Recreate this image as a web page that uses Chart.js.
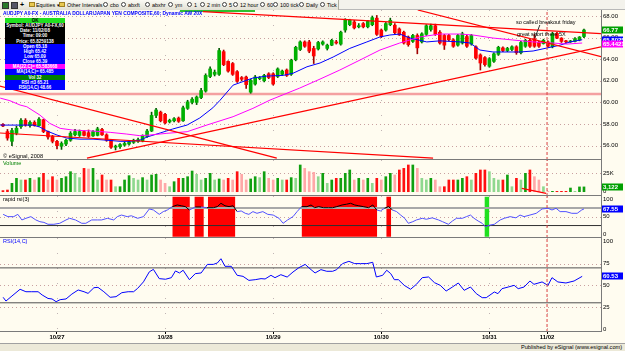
<!DOCTYPE html>
<html><head><meta charset="utf-8">
<script src="https://cdn.jsdelivr.net/npm/chart.js@4.4.1/dist/chart.umd.min.js"></script>
<style>
*{box-sizing:border-box}
html,body{margin:0;padding:0;width:625px;height:351px;overflow:hidden;background:#fffcf0;font-family:"Liberation Sans",Arial,sans-serif;position:relative}
canvas{position:absolute;left:0}
.t{position:absolute;white-space:nowrap;line-height:1;transform-origin:0 50%}
#tb{position:absolute;left:0;top:0;width:625px;height:10px;background:#f3f2ec;border-bottom:1px solid #b8b8b8}
#tbl{position:absolute;left:0;top:0;width:339px;height:10px;background:linear-gradient(#fbfaf4,#e2e0d4);border-right:1px solid #b0ae9f}
.tbi{position:absolute;top:2.5px;font-size:5.4px;color:#000;white-space:nowrap;line-height:1}
.ic{position:absolute;top:2px;width:5px;height:5px;border:1px solid #444;border-radius:50%;background:#fff}
.fd{position:absolute;top:2px;width:6px;height:5px;background:#e8c850;border:1px solid #a08020}
#dw{position:absolute;left:5px;top:18px;width:60px}
#dw div{height:5.15px;font-size:4.5px;line-height:5.15px;color:#fff;text-align:center;white-space:nowrap;overflow:hidden;font-weight:bold}
#sb{position:absolute;left:0;top:343px;width:625px;height:8px;background:#ece9d8;border-top:1px solid #a0a0a0}
</style></head><body>
<div id="tb"><div id="tbl"></div></div>
<div style="position:absolute;left:180px;top:10px;width:75px;height:1.5px;background:#30c030"></div>
<div id="title" class="t" style="left:3px;top:10px;font-size:6.2px;font-weight:bold;color:#0000ff">AUDJPY A0-FX - AUSTRALIA DOLLAR/JAPAN YEN COMPOSITE,60; Dynamic AW 20X</div>
<div id="dw"></div>
<div id="ann1" class="t" style="left:516px;top:20px;font-size:5.5px;color:#000">so called breakout friday</div>
<div id="ann2" class="t" style="left:517px;top:32px;font-size:5.5px;color:#000">great short there 5X</div>
<div id="copy" class="t" style="left:3px;top:155px;font-size:4.5px;color:#000">© eSignal, 2008</div>
<div id="lvol" class="t" style="left:3px;top:161px;font-size:5.5px;color:#008000">Volume</div>
<div id="lrr" class="t" style="left:3px;top:197px;font-size:5.5px;color:#000">rapid rsi(3)</div>
<div id="lrsi" class="t" style="left:3px;top:239px;font-size:5.5px;color:#0000ff">RSI(14,C)</div>
<div id="sb"></div>
<div id="pub" class="t" style="left:521px;top:345px;font-size:5px;color:#000">Published by eSignal (www.esignal.com)</div>
<script>
// ---------------- DATA ----------------
const dayTicks = [12, 36, 60, 84, 108, 120.8];
const dayLabels = ['10/27', '10/28', '10/29', '10/30', '10/31', '11/02'];
const sessionMark = 120.8;

const opens  = [57.97,57.30,56.40,57.15,57.75,58.35,57.85,58.15,57.85,58.40,57.30,56.85,56.40,55.95,56.15,56.50,57.00,56.95,57.30,57.20,56.90,56.95,57.50,57.00,56.50,55.85,55.90,56.05,56.15,56.30,56.40,56.45,56.85,57.35,58.80,59.10,58.90,58.20,58.30,58.55,58.30,59.45,60.00,60.00,60.45,61.05,62.40,62.60,62.60,64.70,63.80,63.60,62.85,62.30,62.35,60.95,61.70,62.20,62.00,62.65,62.65,62.40,62.60,63.00,62.60,63.95,64.90,65.60,65.60,65.00,64.95,65.40,65.00,65.30,65.60,65.40,66.70,67.20,67.45,67.00,67.30,67.00,67.20,67.80,66.70,66.70,67.20,67.15,66.80,66.50,66.05,65.65,66.20,65.60,66.30,66.75,67.10,66.50,66.20,66.20,65.80,65.30,65.50,66.10,65.40,65.15,64.40,64.15,63.35,63.80,64.45,65.05,64.80,64.90,65.15,64.60,65.20,65.75,65.90,65.55,65.45,65.60,65.15,66.40,65.95,65.70,65.60,65.65,65.80,66.10];
const highs  = [58.05,57.50,57.60,57.80,58.50,58.50,58.30,58.30,58.60,58.45,57.35,56.95,56.50,56.35,56.60,57.30,57.50,57.45,57.40,57.45,57.40,57.70,57.60,57.10,56.55,56.05,56.20,56.35,56.50,56.60,56.70,57.00,57.50,59.10,59.45,59.20,59.00,58.45,58.60,58.65,59.65,60.20,60.45,60.60,61.30,62.65,63.30,63.00,65.00,64.85,63.85,63.70,62.95,62.40,62.45,62.15,62.50,62.40,62.60,62.75,62.75,63.20,63.00,63.10,64.00,65.20,65.70,65.70,65.75,65.20,65.65,65.70,65.40,65.85,65.75,66.60,67.75,67.70,67.60,67.30,67.40,67.60,68.00,68.05,66.80,67.40,67.80,67.30,66.90,66.60,66.15,66.30,66.35,66.45,67.20,67.25,67.25,66.65,66.30,66.30,65.90,66.30,66.50,66.20,66.30,65.25,64.50,64.25,64.15,64.60,65.20,65.15,65.10,65.25,65.25,65.65,65.85,65.85,66.30,65.65,65.85,65.70,66.50,66.50,66.00,65.75,65.75,66.00,66.10,66.80];
const lows   = [57.75,56.50,56.00,57.00,57.60,57.80,57.70,57.80,57.80,57.20,56.60,56.25,55.70,55.65,56.00,56.40,56.90,56.85,56.90,56.75,56.85,56.90,56.95,56.40,55.75,55.60,55.75,55.95,56.05,56.20,56.30,56.35,56.75,57.30,58.60,58.20,58.00,58.10,58.20,58.15,58.25,59.35,59.85,59.80,60.35,60.95,62.30,62.45,62.50,63.40,62.80,62.50,61.85,62.00,61.30,60.85,61.60,62.10,61.90,62.20,61.60,62.30,62.50,62.40,62.50,63.85,64.80,65.10,64.60,63.60,64.85,65.30,64.85,65.25,65.40,65.30,66.50,67.10,66.80,66.90,66.90,66.90,67.10,66.20,66.00,66.60,67.10,66.35,66.20,65.40,65.20,65.55,64.50,65.50,66.20,66.60,66.20,65.40,64.90,65.70,65.10,65.20,65.40,65.10,65.30,64.00,63.00,63.35,63.25,63.70,64.35,64.70,64.70,64.80,64.45,64.50,65.10,65.10,65.10,65.10,65.40,65.10,65.05,65.90,65.55,65.50,65.55,65.60,65.70,66.00];
const closes = [57.82,56.70,57.40,57.60,58.35,57.90,58.15,57.85,58.45,57.30,56.80,56.40,56.00,56.20,56.50,57.15,57.30,57.30,56.95,56.85,57.30,57.55,57.00,56.50,55.85,55.95,56.10,56.20,56.35,56.50,56.55,56.90,57.35,58.80,59.30,58.30,58.10,58.35,58.50,58.25,59.50,60.05,60.30,60.50,61.10,62.50,63.10,62.80,64.80,63.50,62.90,62.60,61.95,62.15,61.65,62.05,62.35,62.30,62.50,62.30,61.70,63.10,62.90,62.50,63.90,65.10,65.60,65.20,64.75,64.30,65.55,65.60,65.30,65.75,65.50,66.50,67.60,67.60,66.90,67.10,67.00,67.50,67.85,66.30,66.10,67.30,67.60,66.45,66.25,65.50,65.35,66.20,65.05,66.35,67.10,67.10,66.30,65.50,65.30,65.80,65.20,66.20,66.35,65.20,66.20,64.10,63.65,63.50,64.05,64.50,65.10,64.80,65.00,65.15,64.60,65.55,65.75,65.20,65.20,65.20,65.75,65.20,66.35,65.95,65.65,65.60,65.65,65.90,66.05,66.70];
const volumeK = [1.5,2.3,11.4,18.2,15.9,15.9,18.2,15.9,19.1,25,15.9,20.4,15.9,18.2,20.4,27.2,25,19.1,31.7,30.8,31.7,15.9,22.7,15.9,15.9,6.8,6.8,15.9,21.8,18.2,15.9,19.1,15.9,22.7,23.6,15.9,11.4,6.8,13.6,18.2,18.2,20.4,28.1,23.6,15.9,18.2,25,15.9,17.3,15.9,18.2,15.9,27.2,23.6,15.9,17.3,20.4,19.1,27.2,18.2,15.9,18.2,15.9,15.9,19.1,18.2,36.3,31.7,27.2,26.3,20.4,25,11.4,15.9,18.2,18.2,25,29.5,15.9,18.2,15.9,18.2,11.4,18.2,15.9,20.4,25,22.7,29.5,31.7,36.3,36.3,31.7,18.2,15.9,18.2,15.9,6.8,6.8,15.9,15.9,15.9,18.2,20.4,15.9,25,29.5,29.5,27.2,18.2,15.9,15.9,22.7,6.8,18.2,15.9,25,29.5,20.4,15.9,6.8,0.5,0.5,0.5,0.5,0.5,5,0.5,6.5,6.5];

// moving averages [barPosition, value]
const maFast = [[-0.6,57.9],[3.1,57.9],[6.7,57.9],[8.2,57.72],[9.8,57.35],[12,56.98],[14.2,56.7],[17.1,56.6],[20,56.6],[23.1,56.5],[26,56.4],[28.2,56.4],[30.4,56.5],[32,56.8],[34.9,57.17],[37.7,57.54],[40.9,57.91],[43.7,58.56],[46.6,59.5],[48.2,60.2],[51.1,61.6],[55.5,62.26],[58.6,62.44],[62.2,62.5],[64.4,62.7],[67.5,63.3],[70.4,63.65],[73.3,64.2],[77,65.0],[80.8,65.6],[83.7,66.06],[85.9,66.24],[88.1,66.33],[90.4,65.96],[94.1,65.6],[97,65.7],[101.5,65.6],[103.7,65.5],[105.9,64.85],[108.8,64.67],[111.9,64.67],[114.8,64.67],[117.7,64.76],[120.8,65.04],[123.7,65.3],[125.9,65.6],[128.6,65.8]];
const maSlow = [[-0.6,60.4],[1.55,60.16],[3.8,59.76],[5.3,59.6],[8.2,58.83],[10.4,58.06],[12.7,57.6],[15.5,57.44],[20,57.35],[23.8,57.23],[27.5,57.07],[30.4,56.92],[32.6,56.98],[36.4,57.14],[40.9,57.29],[45.3,57.91],[51.1,58.68],[55.5,59.45],[59.3,60.22],[65.9,61.33],[70.4,62.16],[74.8,63.0],[79.3,63.93],[83.7,64.85],[88.1,65.5],[92.6,66.06],[97,66.33],[101.5,66.33],[104.4,66.24],[108.8,65.96],[113.2,65.78],[117.7,65.6],[122.1,65.5],[125.2,65.4],[128.6,65.5]];

// drawn trend lines [[x1,y1],[x2,y2]]
const trendLines = [
  [[44.4,68.4],[132.8,66.36]],
  [[92.1,68.56],[132.8,64.23]],
  [[18.65,54.85],[132.8,65.14]],
  [[-0.7,61.52],[60.8,54.85]],
  [[-0.7,57.17],[95.5,54.85]]
];
const levelLine = [[-0.7,60.78],[132.8,60.78]];
const annotArrow = [[119.2,67.17],[118.1,65.96]];
const volTrend = [[115.2,4.6],[120.6,-2.2]];

const rapidRsi = [[0.04,57],[1.1,50.5],[2.4,50.5],[3.3,57],[4.2,41],[5.1,45.7],[6.2,50.5],[7.3,41],[8.2,36],[9.1,34],[10,28.6],[11.3,28.6],[12.6,31.4],[14,41],[14.8,45.7],[16.1,41],[17.5,31.4],[18.4,31.4],[19.7,41],[21,41],[21.9,41],[23.2,45.7],[24.6,41],[25.4,50.5],[26.3,55],[27.6,50.5],[28.5,53],[29.9,45.7],[31.2,50.5],[32.5,72.4],[33.4,69.5],[34.7,57],[35.6,64.8],[36.5,69.5],[37.6,79],[38.7,83.8],[39.6,81.5],[40.5,79],[41.4,69.5],[42.7,78],[44,78],[45.3,76],[46.7,76],[47.6,79],[48.4,88.6],[49.3,81.5],[50.2,79],[51.1,81.5],[52,64.8],[52.9,66.7],[53.8,60],[54.6,57],[55.5,64.8],[56.4,60],[57.7,64.8],[58.8,57],[60,55],[61.3,45.7],[62.2,31.4],[63.2,41],[64.4,50.5],[65.3,64.8],[66.3,79],[67.5,79],[68.4,83.8],[69.2,76],[70.1,79],[71.2,76],[72.3,76],[73.2,76],[74.1,79],[75.3,83.8],[76.3,86],[77.2,88.6],[78.1,83.8],[79,81.5],[80,79],[81.2,76],[82.1,83.8],[83,69.5],[83.8,66.7],[84.7,74.3],[85.6,79],[86.5,69.5],[87.4,64.8],[88.3,55],[89.2,45.7],[90,31.4],[91,36],[91.8,41],[93.1,45.7],[94,43],[95.3,47],[96.7,41],[97.6,36],[98.9,28.6],[99.8,38],[100.7,45.7],[102,45.7],[102.9,50.5],[103.8,55],[104.6,45.7],[105.5,38],[106.4,31.4],[107.1,21.7],[108,26],[109.1,28.6],[110.4,41],[111.3,45.7],[112.6,50.5],[113.9,47],[114.8,55],[115.7,50.5],[117,55],[118.4,60],[119.7,72.4],[121,74.3],[121.9,69.5],[122.8,74.3],[123.7,64.8],[125,64.8],[126.3,60],[127.5,60],[128.5,69.5],[129,72.4]];
const overboughtZones = [[37.6,41.5],[42.5,44.6],[45.5,51.6],[66.3,83.1],[85.1,86.2]];
const oversoldZones = [[106.9,108]];

const rsi14 = [[0.04,36.3],[0.67,32],[2,37.8],[3.8,45.5],[5.1,42.7],[6.4,42.7],[7.8,42.7],[8.7,39],[10,35],[10.9,34.4],[11.8,31.3],[12.7,33.6],[14,34.4],[15.3,40],[16.7,44.7],[18,42.7],[18.9,40.8],[20.2,47.3],[21.1,47.7],[22.4,42.7],[23.8,36.3],[25.1,37],[26.4,41.6],[27.8,42.7],[29,42.7],[29.9,46.5],[31.2,54],[32.5,65.5],[33.4,68.3],[34.7,57.7],[36.1,57],[37.4,58.8],[38.3,66.5],[39.2,64.2],[40,67.3],[41.4,56.5],[42.7,63.4],[44,64.2],[45.4,74],[46.7,74],[47.6,75.6],[48.4,80.5],[49.3,71.8],[50.7,71.8],[52,61.5],[53.3,60.3],[54.6,55.7],[56,56.5],[57.3,57.7],[58.2,57.3],[59.5,61.5],[60.4,58.8],[61.7,62.2],[63.1,59.5],[64.4,65.3],[65.7,70.2],[67.1,74],[68.4,68],[69.3,64.2],[70.6,68],[71.9,66.1],[73.2,66.1],[74.1,68],[75.4,74.9],[76.8,77.5],[78.1,74.9],[79.4,74.9],[80.8,74.9],[82.1,76.4],[82.9,59.6],[84.3,61.5],[85.2,67.3],[86.1,63.4],[86.9,56.5],[87.8,56.5],[89.1,50],[90.5,45.5],[91.8,51.2],[93.1,58.8],[94.5,59.6],[95.8,53.1],[97.1,50],[98.4,43.5],[99.8,48.1],[101.1,52.7],[102.4,44.3],[103.8,48.1],[105.1,40.5],[106.4,35.9],[107.3,35.9],[109.1,42.4],[109.9,40.5],[110.8,46.2],[112.2,48.1],[113.5,50],[114.4,46.2],[115.7,48.1],[117,55],[117.9,51.2],[119.7,53.9],[121,50],[121.9,58.8],[123.2,53.9],[125,52.7],[126.8,55],[128.6,60.3]];

const priceTicks = [56, 58, 60, 62, 64, 66, 68];
const volTicks = [0, 25];
const rrTicks = [0, 50, 100];
const rsiTicks = [0, 25, 50, 75, 100];

// ---------------- TEXT ----------------
const dataWindow = [
 ['OK','#20e020','#000'],['Symbol: AUDJPY A0-FX,60','#000','#fff'],['Date: 11/02/08','#000','#fff'],['Time: 09:00','#000','#fff'],['Price: 65.8259138','#000','#fff'],
 ['Open 65.18','#0000ff','#fff'],['High 65.42','#0000ff','#fff'],['Low 65.09','#0000ff','#fff'],['Close 65.39','#0000ff','#fff'],
 ['MA(22,C)= 65.583668','#ff00ff','#fff'],['MA(14,C)= 65.485','#0000ff','#fff'],['Vol 32','#008000','#fff'],['RSI rt3 65.21','#0000ff','#fff'],['RSI(14,C) 48.66','#0000ff','#fff']];
const dw = document.getElementById('dw');
dataWindow.forEach(([t,bg,fg])=>{const d=document.createElement('div');d.textContent=t;d.style.background=bg;d.style.color=fg;dw.appendChild(d);});

const toolbar = [[29,'fd',''],[36,'','Equities ▾'],[59,'fd',''],[67,'','Other Intervals ▾'],[103,'ic',''],[110,'','cbo'],[121,'ic',''],[128,'','abxft'],[145,'ic',''],[152,'','abxhr'],[168,'ic',''],[175,'','ym'],[187,'ic',''],[194,'','1'],[200,'ic',''],[207,'','2 min'],[222,'ic',''],[229,'','5'],[233,'ic',''],[240,'','12 hour'],[260,'ic',''],[267,'','60'],[273,'ic',''],[280,'','100 tick'],[299,'ic',''],[306,'','Daily'],[320,'ic',''],[327,'','Tick']];
const tb=document.getElementById('tb');
[[2,'#2a7a2a'],[11,'#556']].forEach(([x,c])=>{const d=document.createElement('div');d.style.cssText=`position:absolute;left:${x}px;top:1.5px;width:7px;height:7px;background:${c};border:1px solid #333`;tb.appendChild(d);});
const plus=document.createElement('div');plus.className='tbi';plus.style.left='20px';plus.style.top='1px';plus.style.fontSize='7px';plus.style.fontWeight='bold';plus.textContent='+';tb.appendChild(plus);
toolbar.forEach(([x,cls,t])=>{const d=document.createElement('div');if(cls){d.className=cls;}else{d.className='tbi';d.textContent=t;}d.style.left=x+'px';tb.appendChild(d);});

function fit(id,w){const e=document.getElementById(id);const nw=e.scrollWidth;if(nw>0)e.style.transform='scaleX('+(w/nw)+')';}
fit('title',199);fit('ann1',60);fit('ann2',49);fit('pub',101);fit('copy',40);

// ---------------- CHARTS ----------------
Chart.defaults.font.family = '"Liberation Sans", Arial, sans-serif';
Chart.defaults.elements.point.radius = 0;
Chart.defaults.elements.line.borderWidth = 1;
Chart.defaults.elements.line.tension = 0;
Chart.defaults.plugins.legend.display = false;
Chart.defaults.plugins.tooltip.enabled = false;
Chart.defaults.animation = false;

const XMIN = -0.655, XMAX = 132.78;
const pts = a => a.map(([x,y])=>({x,y}));
const isUp = i => closes[i] >= opens[i];

function mkCanvas(top,h){const c=document.createElement('canvas');c.width=625;c.height=h;c.style.top=top+'px';c.style.width='625px';c.style.height=h+'px';document.body.insertBefore(c,document.getElementById('title'));return c;}
function yAxis(min,max,ticks,fmt){return {position:'right',min,max,grid:{display:false,drawTicks:false},border:{display:false},
  afterBuildTicks:s=>{s.ticks=ticks.map(v=>({value:v}));},
  afterFit:s=>{s.width=24;s.paddingTop=0;s.paddingBottom=0;},
  ticks:{autoSkip:false,padding:2,color:'#000',font:{size:6},callback:fmt}};}
function xAxis(show){return {type:'linear',min:XMIN,max:XMAX,display:show,offset:false,
  grid:{display:show,offset:false,drawOnChartArea:false,drawTicks:true,tickLength:2,color:'#000'},border:{display:false},
  afterBuildTicks:s=>{s.ticks=dayTicks.map(v=>({value:v}));},
  afterFit:s=>{s.height=show?10:0;s.paddingLeft=0;s.paddingRight=0;},
  ticks:{autoSkip:false,maxRotation:0,padding:0,color:'#000',font:{size:6,weight:'bold'},callback:(v,i)=>dayLabels[i]}};}
function session(min,max){return {type:'line',data:pts([[sessionMark,min],[sessionMark,max]]),borderColor:'#d84040',borderDash:[3,2],borderWidth:1,order:0};}
function zones(list,top,bot,color){const d=[];list.forEach(([a,b])=>{d.push({x:a,y:top},{x:b,y:top},{x:b+0.01,y:null});});
  return {type:'line',data:d,borderWidth:0,backgroundColor:color,fill:{value:bot},spanGaps:false,order:10};}

const deco={id:'deco',
 beforeDatasetsDraw(c,a,o){const {ctx,chartArea:ar,scales:{x,y}}=c;ctx.save();ctx.lineWidth=1;
  ctx.strokeStyle='#c9a0a0';ctx.setLineDash([1,3]);
  (o.dots||[]).forEach(v=>{const p=Math.round(y.getPixelForValue(v))+0.5;ctx.beginPath();ctx.moveTo(ar.left,p);ctx.lineTo(ar.right,p);ctx.stroke();});
  ctx.strokeStyle='#c0b4b4';ctx.setLineDash([1,14]);
  dayTicks.forEach(d=>{const p=Math.round(x.getPixelForValue(d))+0.5;ctx.beginPath();ctx.moveTo(p,ar.top);ctx.lineTo(p,ar.bottom);ctx.stroke();});
  ctx.restore();},
 afterDraw(c,a,o){const {ctx,chartArea:ar,scales:{y}}=c;ctx.save();ctx.strokeStyle='#7a7a7a';ctx.lineWidth=1;
  ctx.beginPath();ctx.moveTo(ar.right+0.5,0);ctx.lineTo(ar.right+0.5,ar.bottom);ctx.moveTo(0,ar.bottom-0.5);ctx.lineTo(ar.right+1,ar.bottom-0.5);ctx.stroke();
  (o.boxes||[]).forEach(b=>{const p=Math.round(y.getPixelForValue(b.value));ctx.fillStyle=b.bg;ctx.fillRect(ar.right+1,p-3.5,21,7);
    ctx.fillStyle='#fff';ctx.font='bold 6px "Liberation Sans"';ctx.textBaseline='middle';ctx.fillText(b.text,ar.right+2,p+0.5);});
  ctx.restore();}};

const base = (scales,deco_)=>({responsive:false,devicePixelRatio:1,events:[],layout:{padding:0},scales,plugins:{deco:deco_}});

// price
const pMin=54.67,pMax=68.556;
new Chart(mkCanvas(10,150),{type:'bar',data:{datasets:[
  {type:'line',data:pts(levelLine),borderColor:'#f4a0a0',borderWidth:2.5,order:9},
  {type:'bar',data:closes.map((c,i)=>({x:i,y:[lows[i],highs[i]]})),barThickness:1,grouped:false,order:8,backgroundColor:ctx=>isUp(ctx.dataIndex)?'#005a00':'#a00000'},
  {type:'bar',data:closes.map((c,i)=>({x:i,y:[Math.min(opens[i],c),Math.max(opens[i],c)]})),barThickness:3,minBarLength:1,grouped:false,order:7,backgroundColor:ctx=>isUp(ctx.dataIndex)?'#00b000':'#ff0000'},
  {type:'line',data:pts(maSlow),borderColor:'#ff00ff',order:3},
  {type:'line',data:pts(maFast),borderColor:'#0000ff',order:3},
  ...trendLines.map(l=>({type:'line',data:pts(l),borderColor:'#ff0000',borderWidth:1.2,order:2})),
  {type:'line',data:pts(annotArrow),borderColor:'#303030',order:1},
  session(pMin,pMax)
]},options:base({x:xAxis(false),y:yAxis(pMin,pMax,priceTicks,v=>v.toFixed(2))},
  {dots:priceTicks,boxes:[{value:closes[closes.length-1],text:'66.77',bg:'#00a000'},{value:maFast[maFast.length-1][1],text:'65.80251',bg:'#0000ff'},{value:maSlow[maSlow.length-1][1]-0.1,text:'65.44212',bg:'#ff00ff'}]}),plugins:[deco]});

// volume
const vMin=-5.84,vMax=43.07;
new Chart(mkCanvas(160,36),{type:'bar',data:{datasets:[
  {type:'bar',data:volumeK.map((v,i)=>({x:i,y:v})),barThickness:2,grouped:false,order:5,
   backgroundColor:ctx=>{const i=ctx.dataIndex;const lt=i>0&&volumeK[i]<volumeK[i-1];return isUp(i)?(lt?'#8fd88f':'#10a010'):(lt?'#ffa8a8':'#ff1010');}},
  {type:'line',data:pts(volTrend),borderColor:'#ff0000',borderWidth:1.2,order:2},
  session(vMin,vMax)
]},options:base({x:xAxis(false),y:yAxis(vMin,vMax,volTicks,v=>v===0?'0':v+'K')},
  {dots:[25],boxes:[{value:volumeK[volumeK.length-1],text:'3,122',bg:'#00a000'}]}),plugins:[deco]});

// rapid rsi
const rMin=-10.57,rMax=109.43;
const inZone=x=>overboughtZones.some(([a,b])=>x>=a&&x<=b);
new Chart(mkCanvas(196,42),{type:'line',data:{datasets:[
  zones(overboughtZones,107,-7,'#ff0000'),
  zones(oversoldZones,107,-7,'#20e020'),
  {data:pts([[XMIN,75],[XMAX,75]]),borderColor:'#a8a8a8',borderWidth:2,order:6},
  {data:pts([[XMIN,25],[XMAX,25]]),borderColor:'#303030',borderWidth:1,order:6},
  {data:pts(rapidRsi),borderColor:'#5050ff',order:1,segment:{borderColor:ctx=>inZone((ctx.p0.parsed.x+ctx.p1.parsed.x)/2)?'#000':'#5050ff'}},
  session(rMin,rMax)
]},options:base({x:xAxis(false),y:yAxis(rMin,rMax,rrTicks,v=>String(v))},
  {dots:[50],boxes:[{value:rapidRsi[rapidRsi.length-1][1],text:'67.55',bg:'#0000ff'}]}),plugins:[deco]});

// rsi 14
const sMin=-3.44,sMax=104.24;
new Chart(mkCanvas(238,104),{type:'line',data:{datasets:[
  {data:pts([[XMIN,70],[XMAX,70]]),borderColor:'#505050',order:6},
  {data:pts([[XMIN,30],[XMAX,30]]),borderColor:'#505050',order:6},
  {data:pts(rsi14),borderColor:'#0000ff',order:1},
  session(sMin,sMax)
]},options:base({x:xAxis(true),y:yAxis(sMin,sMax,rsiTicks,v=>String(v))},
  {dots:[25,50,75],boxes:[{value:rsi14[rsi14.length-1][1],text:'60.53',bg:'#0000ff'}]}),plugins:[deco]});
</script>
</body></html>
